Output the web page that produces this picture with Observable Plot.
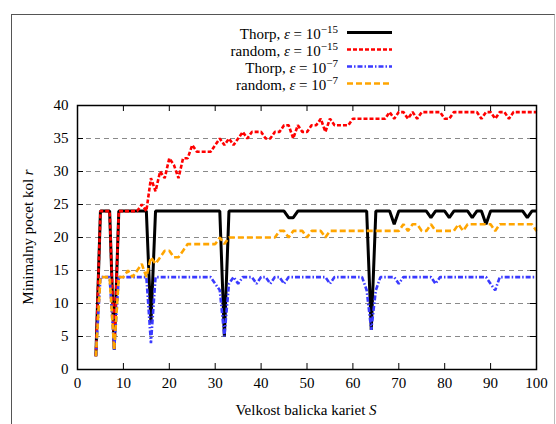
<!DOCTYPE html>
<html><head><meta charset="utf-8">
<script src="https://cdn.jsdelivr.net/npm/d3@7"></script>
<script src="https://cdn.jsdelivr.net/npm/@observablehq/plot@0.6"></script>
<style>
body{margin:0;background:#fff;}
#wrap{position:relative;width:556px;height:424px;overflow:hidden;background:#fff;}
#border{position:absolute;left:11px;top:14px;width:542px;height:440px;border:1px solid #555;border-right-color:#bbb;pointer-events:none;}
#legend{position:relative;height:95px;}
#legend svg{display:block;}
#chart svg{display:block;}
.xlabel{position:absolute;left:0;width:612px;top:402px;text-align:center;font-size:15px;}
.ylabel{position:absolute;left:28px;top:237px;transform:translate(-50%,-50%) rotate(-90deg);white-space:nowrap;font-size:15px;}
</style></head>
<body>
<div id="wrap">
  <div id="legend"></div>
  <div id="chart"></div>
  <div class="xlabel" id="xl">Velkost balicka kariet <i>S</i></div>
  <div class="ylabel" id="yl">Minimalny pocet kol <i>r</i></div>
  <div id="border"></div>
</div>
<script>
const S = [4,5,6,7,8,9,10,11,12,13,14,15,16,17,18,19,20,21,22,23,24,25,26,27,28,29,30,31,32,33,34,35,36,37,38,39,40,41,42,43,44,45,46,47,48,49,50,51,52,53,54,55,56,57,58,59,60,61,62,63,64,65,66,67,68,69,70,71,72,73,74,75,76,77,78,79,80,81,82,83,84,85,86,87,88,89,90,91,92,93,94,95,96,97,98,99,100];

const thorp15 = [
  2,24,24,24,3,24,24,24,24,24,
  24,24,7,24,24,24,24,24,24,24,
  24,24,24,24,24,24,24,24,5,24,
  24,24,24,24,24,24,24,24,24,24,
  24,24,23,23,24,24,24,24,24,24,
  24,24,24,24,24,24,24,24,24,24,
  6,24,24,24,24,22,24,24,24,24,
  24,24,24,23,24,24,24,23,24,24,
  24,24,23,24,24,22,24,24,24,24,
  24,24,24,24,23,24,24];

const random15 = [
  2,24,24,24,3,24,24,24,24,24,
  25,24,29,27,30,29,32,31,29,32,
  32,34,33,33,33,33,34,35,34,35,
  34,35,36,35,36,36,36,35,35,36,
  36,37,37,35,37,36,36,37,37,38,
  36,38,37,37,37,37,38,38,38,38,
  38,38,38,38,39,38,39,39,38,39,
  38,39,39,39,39,39,38,38,39,39,
  39,39,39,39,38,39,39,38,39,39,
  38,39,39,39,39,39,39];

const thorp7 = [
  2,14,14,14,3,14,14,14,14,14,
  14,14,4,14,14,14,14,14,14,14,
  14,14,14,14,14,14,13,12,5,13,
  14,13,14,14,14,13,14,14,13,14,
  14,13,14,14,14,14,14,14,14,14,
  14,13,14,14,14,14,14,14,14,12,
  6,12,14,14,14,14,13,14,14,14,
  14,14,14,14,13,14,14,14,14,14,
  14,14,14,14,14,14,13,12,14,14,
  14,14,14,14,14,14,14];

const random7 = [
  2,14,14,14,3,14,14,15,14,15,
  16,14,17,16,17,18,18,17,17,18,
  19,19,19,19,19,19,19,20,19,20,
  20,20,20,20,20,20,20,20,20,20,
  21,21,20,21,21,21,20,21,21,21,
  20,21,21,21,21,21,21,21,21,21,
  21,21,21,21,21,21,21,22,21,22,
  22,21,21,22,21,21,21,21,21,22,
  21,22,22,22,22,22,22,21,22,22,
  22,22,22,22,22,22,21];

const xTicks = [0,10,20,30,40,50,60,70,80,90,100];
const yTicks = [0,5,10,15,20,25,30,35,40];
const gridY = [5,10,15,20,25,30,35];

const seriesNames = ["Thorp", "random", "Thorp", "random"];
const seriesExp = ["−15", "−15", "−7", "−7"];

const FONT = "'Liberation Serif','Times New Roman','DejaVu Serif',Times,serif";

const styles = [
  {stroke:"#000000", strokeWidth:3, dash:null},
  {stroke:"#ff0000", strokeWidth:2.6, dash:"4,2"},
  {stroke:"#3a3aff", strokeWidth:2.6, dash:"5,2,1.5,2"},
  {stroke:"#ffa500", strokeWidth:2.6, dash:"6,3"}
];

const seriesValues = [thorp15, random15, thorp7, random7];
const tables = seriesValues.map(vals => S.map((s, i) => ({S: s, r: vals[i]})));

document.getElementById("xl").style.fontFamily = FONT;
document.getElementById("yl").style.fontFamily = FONT;

// Legend
const NS = "http://www.w3.org/2000/svg";
const leg = document.createElementNS(NS, "svg");
leg.setAttribute("width", 556); leg.setAttribute("height", 95);
leg.style.fontFamily = FONT;
const baselines = [38.5, 55.5, 72.5, 89.5];
seriesNames.forEach((name, i) => {
  const t = document.createElementNS(NS, "text");
  t.setAttribute("x", 338); t.setAttribute("y", baselines[i]);
  t.setAttribute("text-anchor", "end"); t.setAttribute("font-size", 15);
  t.innerHTML = `${name}, <tspan font-style="italic">ε</tspan> = 10<tspan dy="-5.5" font-size="11">${seriesExp[i]}</tspan>`;
  leg.appendChild(t);
  const l = document.createElementNS(NS, "line");
  l.setAttribute("x1", 347); l.setAttribute("x2", 392);
  l.setAttribute("y1", baselines[i] - 6); l.setAttribute("y2", baselines[i] - 6);
  l.setAttribute("stroke", styles[i].stroke);
  l.setAttribute("stroke-width", styles[i].strokeWidth);
  if (styles[i].dash) l.setAttribute("stroke-dasharray", styles[i].dash);
  leg.appendChild(l);
});
document.getElementById("legend").appendChild(leg);

const innerH = 329 - 10 - 55;
const innerW = 556 - 77 - 20;
const tickLen = 6;

const plot = Plot.plot({
  width: 556, height: 329,
  marginLeft: 77, marginRight: 20, marginTop: 10, marginBottom: 55,
  x: {domain: [0, 100]},
  y: {domain: [0, 40]},
  style: {fontSize: "15px", background: "transparent", color: "#000"},
  marks: [
    Plot.ruleY(gridY, {stroke: "#8a8a8a", strokeWidth: 1, strokeDasharray: "5,4"}),
    ...tables.map((tb, i) => Plot.line(tb, {
      x: "S", y: "r", stroke: styles[i].stroke, strokeWidth: styles[i].strokeWidth,
      strokeDasharray: styles[i].dash, strokeLinejoin: "miter", strokeLinecap: "butt"
    })),
    Plot.ruleX(xTicks, {x: d => d, insetTop: innerH - tickLen, stroke: "#000"}),
    Plot.ruleX(xTicks, {x: d => d, insetBottom: innerH - tickLen, stroke: "#000"}),
    Plot.ruleY(yTicks, {y: d => d, insetRight: innerW - tickLen, stroke: "#000"}),
    Plot.ruleY(yTicks, {y: d => d, insetLeft: innerW - tickLen, stroke: "#000"}),
    Plot.frame({stroke: "#000", strokeWidth: 1.5}),
    Plot.axisX(xTicks, {tickSize: 0, tickPadding: 8, label: null, fontSize: 15}),
    Plot.axisY(yTicks, {tickSize: 0, tickPadding: 9, label: null, fontSize: 15})
  ]
});
plot.style.fontFamily = FONT;
plot.querySelectorAll("text, g").forEach(el => { el.style.fontFamily = FONT; });
document.getElementById("chart").appendChild(plot);
</script>
</body></html>
